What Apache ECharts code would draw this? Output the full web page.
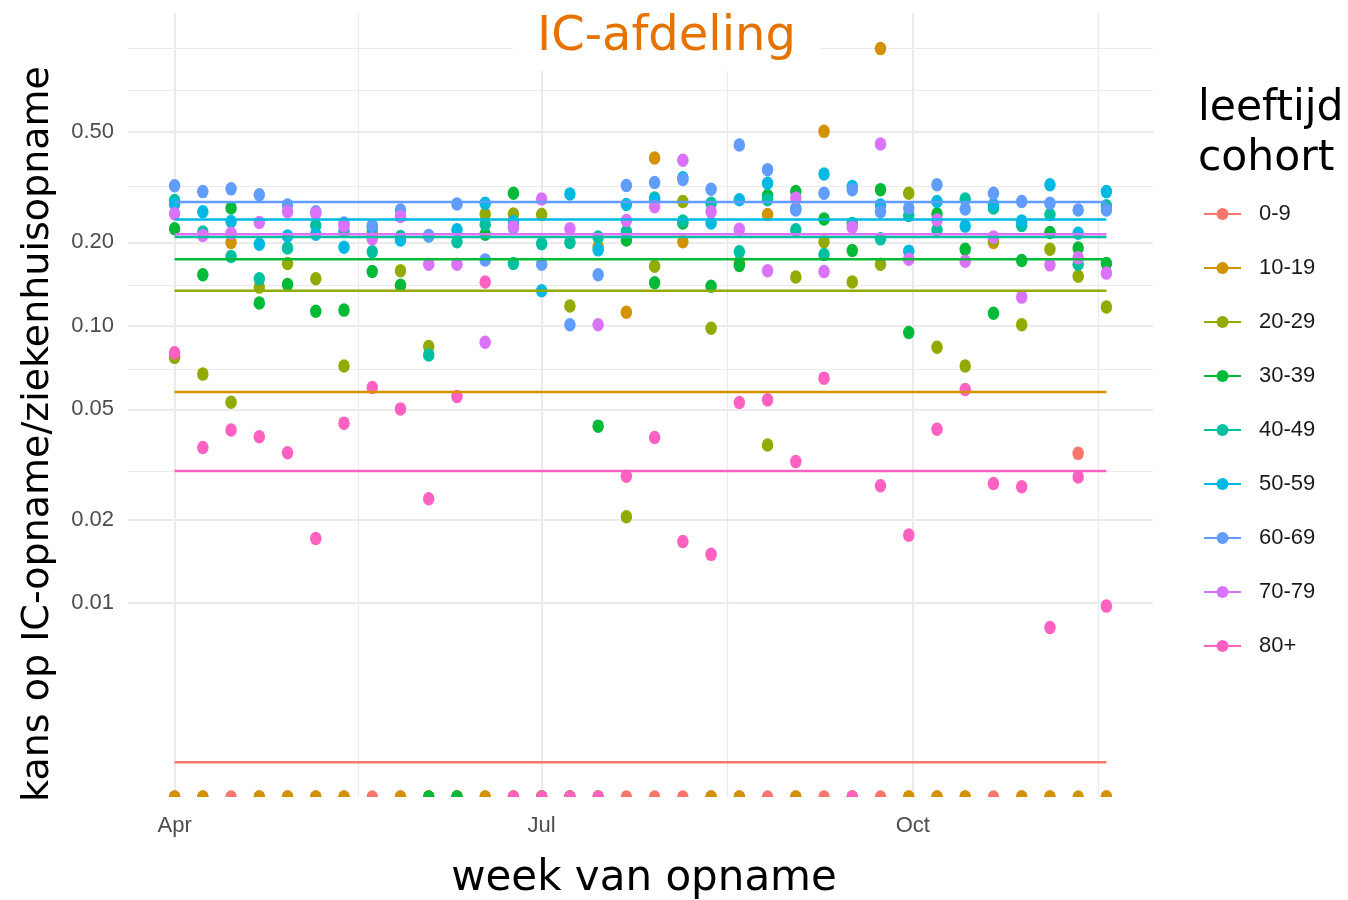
<!DOCTYPE html>
<html><head><meta charset="utf-8">
<script src="https://cdn.jsdelivr.net/npm/echarts@6/dist/echarts.min.js"></script>
<style>html,body{margin:0;padding:0;background:#fff}#c{width:1348px;height:900px}</style>
</head><body><div id="c"></div>
<script>
// ---- data ----
const WEEKS = ['2020-04-01','2020-04-08','2020-04-15','2020-04-22','2020-04-29','2020-05-06','2020-05-13','2020-05-20','2020-05-27','2020-06-03',
  '2020-06-10','2020-06-17','2020-06-24','2020-07-01','2020-07-08','2020-07-15','2020-07-22','2020-07-29','2020-08-05','2020-08-12',
  '2020-08-19','2020-08-26','2020-09-02','2020-09-09','2020-09-16','2020-09-23','2020-09-30','2020-10-07','2020-10-14','2020-10-21',
  '2020-10-28','2020-11-04','2020-11-11','2020-11-18'];
const COHORTS = ['0-9','10-19','20-29','30-39','40-49','50-59','60-69','70-79','80+'];
const COLORS = ['#F8766D','#D39200','#93AA00','#00BA38','#00C19F','#00B9E3','#619CFF','#DB72FB','#FF61C3'];
const V_0_9   = [0,0,0,0,0,0,0,0,0,0, 0,0,0,0,0,0,0,0,0,0, 0,0,0,0,0,0,0,0,0,0, 0,0,0.0347,0];
const V_10_19 = [0,0,0.200,0,0,0,0,0.211,0,0, 0,0,0,0,0,0.193,0.112,0.403,0.201,0, 0,0.252,0,0.503,0,1.0,0,0,0,0.200, 0,0,0,0];
const V_20_29 = [0.077,0.067,0.053,0.138,0.168,0.148,0.0717,0.218,0.158,0.0842, 0,0.253,0.253,0.252,0.118,0,0.0205,0.164,0.281,0.098,
  0.170,0.0372,0.150,0.201,0.144,0.167,0.301,0.0838,0.0717,0.204, 0.101,0.189,0.151,0.117];
const V_30_39 = [0.224,0.153,0.266,0.121,0.141,0.113,0.114,0.157,0.140,0, 0,0.214,0.301,0,0,0.0435,0.204,0.143,0.235,0.139,
  0.165,0.295,0.305,0.243,0.187,0.310,0.0946,0.253,0.189,0.111, 0.172,0.217,0.191,0.168];
const V_40_49 = [0.283,0.218,0.178,0.148,0.191,0.230,0.219,0.185,0.210,0.0786, 0.201,0.232,0.168,0.198,0.200,0.209,0.219,0.289,0.239,0.277,
  0.185,0.285,0.222,0.181,0.234,0.206,0.250,0.222,0.287,0.266, 0.230,0.252,0.167,0.271];
const V_50_59 = [0.275,0.258,0.238,0.197,0.211,0.214,0.192,0.226,0.204,0.211, 0.222,0.277,0.238,0.134,0.299,0.188,0.274,0.285,0.342,0.235,
  0.285,0.327,0.265,0.353,0.318,0.273,0.186,0.281,0.229,0.274, 0.239,0.323,0.216,0.305];
const V_60_69 = [0.320,0.305,0.312,0.297,0.273,0.258,0.235,0.230,0.262,0.212, 0.275,0.173,0.226,0.167,0.101,0.153,0.321,0.329,0.337,0.311,
  0.449,0.366,0.262,0.301,0.310,0.258,0.266,0.323,0.264,0.301, 0.281,0.277,0.262,0.262];
const V_70_79 = [0.254,0.212,0.216,0.236,0.258,0.255,0.229,0.206,0.248,0.167, 0.167,0.0873,0.229,0.287,0.224,0.101,0.240,0.269,0.396,0.258,
  0.223,0.158,0.289,0.157,0.227,0.453,0.174,0.241,0.171,0.209, 0.127,0.166,0.176,0.155];
const V_80P   = [0.080,0.0364,0.0421,0.0398,0.0349,0.0171,0.0446,0.0600,0.0502,0.0238, 0.0556,0.144,0,0,0,0,0.0287,0.0396,0.0167,0.0150,
  0.0529,0.0541,0.0324,0.0648,0,0.0265,0.0176,0.0424,0.0590,0.0270, 0.0263,0.00817,0.0285,0.00976];
const MEANS = [0.00267,0.0577,0.134,0.174,0.209,0.242,0.280,0.214,0.0300];
const Y_BREAKS = [0.01,0.02,0.05,0.1,0.2,0.5];
const Y_LABELS = ['0.01','0.02','0.05','0.10','0.20','0.50'];
const Y_MINOR = [0.005,0.00707,0.01414,0.0316,0.0707,0.1414,0.316,0.707,1.0];
const X_BREAKS = ['2020-04-01','2020-07-01','2020-10-01'];
const X_LABELS = ['Apr','Jul','Oct'];
const X_MINOR = ['2020-05-16 12:00','2020-08-16','2020-11-16'];
const ZERO_AT = 0.002; // zero observations sit on the lower edge of the panel
const VALUES = [V_0_9,V_10_19,V_20_29,V_30_39,V_40_49,V_50_59,V_60_69,V_70_79,V_80P];

// ---- chart ----
const HALF_DOT = 'path://M0,10A10,10,0,0,1,20,10Z';
const GRID_COLOR = '#EBEBEB';
const AXIS_TXT = {color:'#4D4D4D', fontSize:22, fontFamily:'Liberation Sans, Arial, sans-serif'};

const lineSeries = COHORTS.map((name,i)=>({
  type:'line', name, z:3, silent:true,
  data:[[WEEKS[0],MEANS[i]],[WEEKS[WEEKS.length-1],MEANS[i]]],
  showSymbol:false, symbol:'circle',
  itemStyle:{color:COLORS[i]}, lineStyle:{color:COLORS[i], width:2.5}
}));
const pointSeries = COHORTS.map((name,i)=>({
  type:'scatter', name, z:2, clip:false, silent:true,
  symbol:'circle', symbolSize:[11.5,13.5],
  itemStyle:{color:COLORS[i], opacity:1},
  data: WEEKS.map((d,k)=> VALUES[i][k]===0
      ? {value:[d,ZERO_AT], symbol:HALF_DOT, symbolSize:[11.5,6.7], symbolOffset:[0,-3.35]}
      : [d, VALUES[i][k]])
}));
const gridData = [];
Y_MINOR.forEach(v=>gridData.push({yAxis:v, lineStyle:{color:GRID_COLOR,width:1.2,type:'solid'}, label:{show:false}}));
Y_BREAKS.forEach((v,i)=>gridData.push({yAxis:v, lineStyle:{color:GRID_COLOR,width:2,type:'solid'},
  label:{show:true, position:'start', distance:14, formatter:Y_LABELS[i], ...AXIS_TXT}}));
X_MINOR.forEach(v=>gridData.push({xAxis:v, lineStyle:{color:GRID_COLOR,width:1.2,type:'solid'}, label:{show:false}}));
X_BREAKS.forEach((v,i)=>gridData.push({xAxis:v, lineStyle:{color:GRID_COLOR,width:2,type:'solid'},
  label:{show:true, position:'start', distance:18, formatter:X_LABELS[i], ...AXIS_TXT}}));
const gridSeries = {type:'line', name:'_grid', data:[], silent:true,
  markLine:{silent:true, z:1, symbol:['none','none'], animation:false, emphasis:{disabled:true}, data:gridData}};

const option = {
  animation:false,
  backgroundColor:'#fff',
  title:[
    {text:'IC-afdeling', left:513, top:0, padding:[10,24,5,24], backgroundColor:'#fff', z:10,
     textStyle:{fontFamily:'DejaVu Sans', fontSize:48, fontWeight:'normal', color:'#E67300', lineHeight:56}},
    {text:'leeftijd\ncohort', left:1198, top:84, padding:0,
     textStyle:{fontFamily:'DejaVu Sans', fontSize:42.5, fontWeight:'normal', color:'#000', lineHeight:50}}
  ],
  legend:{orient:'vertical', left:1203, top:203, padding:0, itemWidth:37, itemHeight:15, itemGap:32,
    data:COHORTS, selectedMode:false,
    textStyle:{fontSize:22, fontFamily:'Liberation Sans, Arial, sans-serif', color:'#1A1A1A', padding:[0,0,0,13]}},
  grid:{left:128, right:195, top:13, bottom:103, containLabel:false},
  xAxis:{type:'time', min:'2020-03-20 10:48', max:'2020-11-29 13:12',
    axisLine:{show:false}, axisTick:{show:false}, axisLabel:{show:false}, splitLine:{show:false}},
  yAxis:{type:'log', logBase:10, min:ZERO_AT, max:1.344,
    axisLine:{show:false}, axisTick:{show:false}, axisLabel:{show:false}, splitLine:{show:false}, minorSplitLine:{show:false}},
  graphic:[
    {type:'text', x:38, y:434, rotation:Math.PI/2, silent:true,
     style:{text:'kans op IC-opname/ziekenhuisopname', fontFamily:'DejaVu Sans', fontSize:38, fill:'#000', align:'center', verticalAlign:'middle'}},
    {type:'text', x:644, y:879, silent:true,
     style:{text:'week van opname', fontFamily:'DejaVu Sans', fontSize:42, fill:'#000', align:'center', verticalAlign:'middle'}}
  ],
  series:[gridSeries, ...lineSeries, ...pointSeries]
};
const chart = echarts.init(document.getElementById('c'), null, {renderer:'canvas'});
chart.setOption(option);
</script></body></html>
